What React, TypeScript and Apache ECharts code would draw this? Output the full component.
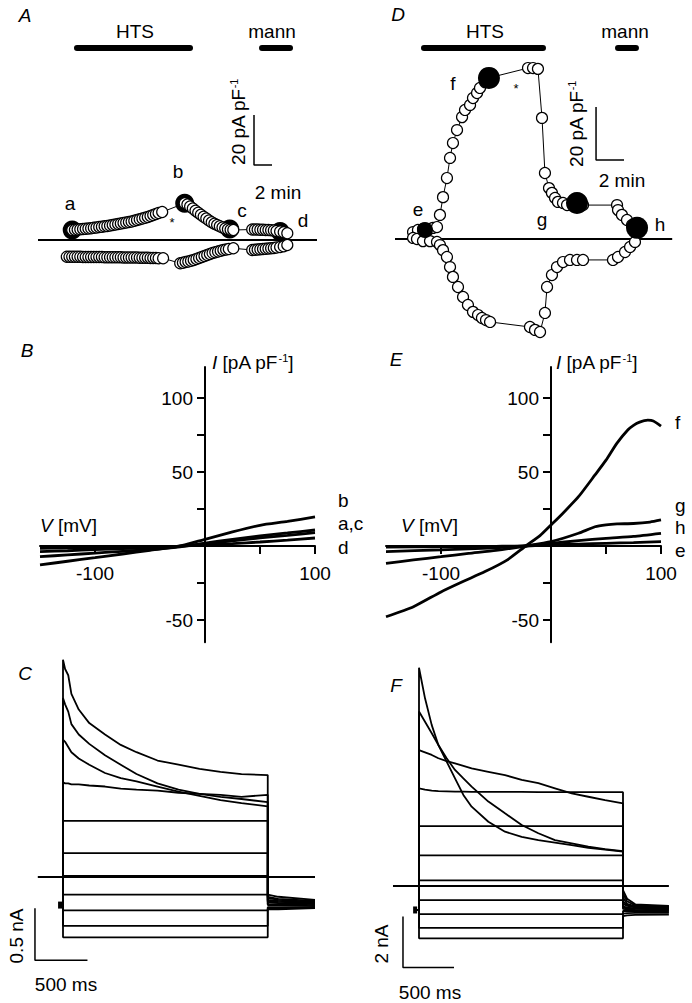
import { useEffect, useRef } from "react";
import * as echarts from "echarts";

const FONT = '"Liberation Sans", Arial, Helvetica, sans-serif';

// ---------- Panel A: time course, [time (min), current (pA/pF)] ----------
const aUpper1 = [[3.8,4.0],[4.1,4.1],[4.4,4.2],[4.7,4.3],[5.0,4.4],[5.3,4.5],[5.6,4.6],[5.9,4.7],[6.2,4.9],[6.5,5.0],[6.8,5.2],[7.1,5.3],[7.4,5.5],[7.7,5.6],[8.0,5.8],[8.3,6.0],[8.6,6.2],[8.9,6.4],[9.2,6.6],[9.5,6.8],[9.8,7.0],[10.1,7.2],[10.4,7.4],[10.7,7.7],[11.0,8.0],[11.3,8.3],[11.6,8.6],[11.9,8.9],[12.2,9.2],[12.5,9.6],[12.8,10.0],[13.1,10.4],[13.4,10.8],[13.8,11.2]];
const aUpper2 = [[16.3,14.7],[16.6,14.2],[16.9,13.4],[17.2,12.6],[17.5,11.7],[17.8,10.9],[18.1,10.1],[18.4,9.3],[18.7,8.6],[19.0,7.8],[19.3,7.1],[19.6,6.5],[19.9,6.0],[20.2,5.5],[20.5,5.0],[20.8,4.6],[21.1,4.3],[21.4,4.1],[21.7,4.0]];
const aUpper3 = [[23.8,4.2],[24.1,4.2],[24.4,4.2],[24.7,4.1],[25.0,4.1],[25.3,4.0],[25.6,4.0],[25.9,3.9],[26.2,3.8],[26.5,3.6],[26.9,3.4],[27.3,3.1],[27.7,2.7]];
const aLower1 = [[3.2,-6.7],[3.5,-6.7],[3.8,-6.7],[4.1,-6.7],[4.4,-6.7],[4.7,-6.7],[5.0,-6.8],[5.3,-6.8],[5.6,-6.8],[5.9,-6.8],[6.2,-6.8],[6.5,-6.8],[6.8,-6.8],[7.1,-6.8],[7.4,-6.9],[7.7,-6.9],[8.0,-6.9],[8.3,-6.9],[8.6,-6.9],[8.9,-6.9],[9.2,-6.9],[9.5,-7.0],[9.8,-7.0],[10.1,-7.0],[10.4,-7.0],[10.7,-7.0],[11.0,-7.0],[11.3,-7.1],[11.6,-7.1],[11.9,-7.1],[12.2,-7.1],[12.5,-7.2],[12.8,-7.2],[13.1,-7.2],[13.4,-7.3],[13.9,-7.3]];
const aLower2 = [[15.8,-9.3],[16.1,-9.1],[16.4,-8.8],[16.7,-8.6],[17.0,-8.3],[17.3,-8.0],[17.6,-7.6],[17.9,-7.2],[18.2,-6.8],[18.5,-6.4],[18.8,-6.0],[19.1,-5.6],[19.4,-5.2],[19.7,-4.9],[20.0,-4.6],[20.3,-4.3],[20.6,-4.0],[20.9,-3.8],[21.2,-3.6],[21.7,-3.3]];
const aLower3 = [[23.8,-4.0],[24.1,-3.9],[24.4,-3.8],[24.7,-3.7],[25.0,-3.6],[25.3,-3.5],[25.6,-3.4],[25.9,-3.3],[26.2,-3.2],[26.5,-3.0],[26.9,-2.8],[27.3,-2.5],[27.7,-2.0]];
const aMarked = [[3.8,4.0],[16.3,14.7],[21.3,4.4],[26.9,3.4]]; // a, b, c, d
const aHTS = [[4.33,76.8],[16.89,76.8]];
const aMann = [[24.89,76.8],[28.0,76.8]];
const aBaseline = [[0,0],[31,0]];
const aScale = [[24,50],[24,30],[26,30]]; // 20 pA/pF, 2 min

// ---------- Panel D: time course ----------
const dUpper = [[1.29,2.6],[1.64,3.4],[2.0,3.8],[2.36,3.4],[2.71,4.2],[3.0,4.5],[3.21,9.1],[3.43,15.8],[3.71,23.0],[3.93,30.6],[4.14,36.2],[4.43,41.1],[4.79,46.0],[5.0,48.7],[5.36,50.6],[5.57,53.2],[5.86,55.1],[6.07,57.0],[6.43,59.2],[6.71,60.8],[9.5,64.5],[9.86,64.5],[10.21,64.2],[10.5,45.7],[10.71,24.9],[11.0,19.2],[11.21,17.4],[11.43,15.5],[11.64,14.0],[12.0,13.6],[12.29,12.8],[12.71,13.6],[13.0,13.6],[13.43,12.8],[15.86,12.8],[15.93,10.9],[16.21,9.1],[16.57,7.2],[16.93,5.3],[17.29,4.2]];
const dLower = [[1.29,0.4],[1.57,0],[2.0,-0.8],[2.5,-0.8],[3.0,-1.1],[3.21,-2.3],[3.43,-4.2],[3.71,-6.8],[3.93,-10.6],[4.14,-14.3],[4.5,-18.1],[4.86,-21.9],[5.21,-24.9],[5.57,-27.5],[5.93,-28.7],[6.21,-29.8],[6.5,-30.6],[6.79,-31.3],[9.64,-33.2],[10.0,-34.3],[10.36,-35.1],[10.71,-27.9],[10.86,-18.1],[11.21,-13.6],[11.57,-10.6],[12.0,-8.7],[12.5,-7.9],[13.0,-7.9],[13.43,-7.9],[15.57,-7.9],[15.93,-6.8],[16.43,-4.9],[16.79,-3.0],[17.14,-1.1]];
const dMarked = [[2.14,3.4],[6.71,60.8],[13.0,13.6],[17.29,4.2]]; // e, f, g, h
const dHTS = [[2.07,72.1],[10.57,72.1]];
const dMann = [[15.93,72.1],[17.21,72.1]];
const dBaseline = [[0,0],[19.8,0]];
const dScale = [[14.36,49.8],[14.36,29.8],[16.36,29.8]];

// ---------- Panels B, E: I-V relations (mV, pA/pF) ----------
const vB = [-150,-125,-100,-75,-50,-25,0,25,50,75,100];
const ivB_b = [-12.8,-10.3,-7.9,-5.4,-2.9,-0.5,4.5,9.5,14.0,16.6,19.6];
const ivB_a = [-7.2,-6.0,-4.8,-3.6,-2.4,-0.8,2.0,4.5,6.8,8.8,10.8];
const ivB_c = [-3.8,-3.2,-2.5,-1.8,-1.2,-0.3,1.5,3.5,5.5,7.2,9.0];
const ivB_d = [-1.6,-1.3,-1.0,-0.8,-0.5,-0.1,0.6,1.6,2.7,4.0,5.4];

const vE_f = [-150,-125,-100,-80,-60,-40,-23,-10,0,10,25,40,50,60,70,75,80,88,93,100];
const ivE_f = [-47.8,-41,-31,-24,-17.3,-9.5,0,7,14.2,21.5,33.3,48,58,69.5,78.5,81.5,83.5,85,84.5,81];
const vE_g = [-150,-125,-100,-75,-50,-23,0,25,40,50,60,75,90,100];
const ivE_g = [-11.7,-9.4,-7.2,-5.0,-3.0,0,2.9,8.6,13,14.3,14.9,15.2,16.2,17.6];
const vE_he = [-150,-100,-50,-23,0,25,50,75,100];
const ivE_h = [-3.8,-2.6,-1.2,0,1.8,3.6,5.2,6.5,8.6];
const ivE_e = [-0.8,-0.5,-0.2,0,0.8,1.3,1.8,2.3,2.9];

const xTicks = [-100,50,100];
const xTickLabels = [-100,100];
const yTicks = [-50,-25,25,50,75,100];
const yTickLabels = [-50,50,100];

// ---------- Panel C: current traces (ms, nA) ----------
const tC = [0,20,50,80,150,250,400,550,700,900,1100,1300,1500,1700,1950];
const cT1 = [2.09,2.0,1.94,1.76,1.61,1.48,1.37,1.27,1.20,1.12,1.08,1.04,1.01,0.99,0.98];
const cT2 = [1.72,1.66,1.59,1.47,1.37,1.28,1.17,1.08,0.99,0.90,0.84,0.80,0.77,0.75,0.72];
const cT3 = [1.32,1.30,1.25,1.20,1.14,1.08,1.0,0.95,0.92,0.87,0.82,0.78,0.74,0.71,0.68];
const cT4 = [0.91,0.90,0.90,0.89,0.89,0.88,0.87,0.85,0.84,0.83,0.81,0.80,0.79,0.77,0.79];
const cFlat = [0.54,0.23,0.01,-0.17,-0.32,-0.47,-0.58];
const cHold = -0.27;
const tCtail = [1950,2050,2400];
const cTails = [[-0.17,-0.19,-0.22],[-0.19,-0.21,-0.23],[-0.2,-0.22,-0.24],[-0.22,-0.23,-0.25],[-0.23,-0.24,-0.25],[-0.24,-0.25,-0.26],[-0.26,-0.26,-0.27],[-0.27,-0.27,-0.28],[-0.29,-0.29,-0.29],[-0.3,-0.3,-0.3],[-0.31,-0.31,-0.3]];
const cBaseline = [[-240,0],[2400,0]];
const cScale = [[-267,-0.3],[-267,-0.8],[233,-0.8]]; // 0.5 nA, 500 ms

// ---------- Panel F: current traces ----------
const tF = [0,59,125,190,271,353,435,516,680,843,1007,1170,1333,1497,1660,1824,2000];
const fTA = [8.56,7.36,6.31,5.53,4.88,4.22,3.57,3.11,2.52,2.13,1.93,1.80,1.70,1.60,1.50,1.43,1.35];
const fTB = [6.84,6.44,5.99,5.53,5.01,4.55,4.22,3.90,3.31,2.85,2.39,2.07,1.80,1.67,1.54,1.45,1.37];
const fTC = [5.33,5.24,5.14,5.01,4.90,4.81,4.71,4.61,4.48,4.35,4.16,4.03,3.83,3.63,3.50,3.37,3.24];
const fTD = [3.83,3.78,3.74,3.72,3.71,3.70,3.70,3.69,3.69,3.69,3.69,3.68,3.68,3.68,3.68,3.68,3.68];
const fFlat = [2.35,1.20,0.22,-0.55,-1.10,-1.64,-2.05];
const fHold = -0.94;
const tFtail = [2000,2040,2120,2450];
const fTails = [[-0.16,-0.5,-0.72,-0.78],[-0.3,-0.6,-0.76,-0.8],[-0.45,-0.7,-0.8,-0.83],[-0.6,-0.75,-0.82,-0.85],[-0.7,-0.78,-0.84,-0.87],[-0.8,-0.85,-0.88,-0.9],[-0.85,-0.88,-0.9,-0.93],[-0.9,-0.92,-0.94,-0.96],[-0.98,-0.98,-0.98,-1.0],[-1.08,-1.06,-1.05,-1.05],[-1.18,-1.15,-1.13,-1.12]];
const fBaseline = [[-255,0],[2450,0]];
const fScale = [[-157,-1.2],[-157,-3.2],[343,-3.2]]; // 2 nA, 500 ms

const zip = (xs: number[], ys: number[]) => xs.map((x, i) => [x, ys[i]]);

function plainLine(data: number[][], gi: number, width: number, extra: any = {}) {
  return {
    type: "line", xAxisIndex: gi, yAxisIndex: gi, data, symbol: "none", silent: true,
    lineStyle: { color: "#000", width, cap: "butt" }, z: 2, ...extra,
  };
}

function openCircles(data: number[][], gi: number, size: number, z: number) {
  return {
    type: "line", xAxisIndex: gi, yAxisIndex: gi, data, symbol: "circle", symbolSize: size,
    showSymbol: true, showAllSymbol: true, silent: true,
    lineStyle: { color: "#000", width: 1 },
    itemStyle: { color: "#fff", borderColor: "#000", borderWidth: 1.2, opacity: 1 }, z,
  };
}

function filled(data: number[][], gi: number, size: any, z: number) {
  return {
    type: "scatter", xAxisIndex: gi, yAxisIndex: gi, data, symbol: "circle", symbolSize: size,
    silent: true, itemStyle: { color: "#000", opacity: 1 }, z,
  };
}

function trace(t: number[], v: number[], tailT: number[], tail: number[], hold: number, gi: number) {
  const data = [[-30, hold], [0, hold], ...zip(t, v), ...zip(tailT, tail)];
  return plainLine(data, gi, 1.8);
}

const RICH = {
  i: { fontStyle: "italic", fontSize: 19, fontFamily: FONT, color: "#000" },
  s: { fontSize: 11, fontFamily: FONT, color: "#000", verticalAlign: "top" },
};

function label(x: number, y: number, text: string, o: any = {}) {
  return {
    type: "text", x, y, rotation: o.rotation || 0, silent: true,
    style: {
      text, fill: "#000", fontFamily: FONT, fontSize: o.size || 19,
      fontStyle: o.italic ? "italic" : "normal",
      align: o.align || "center", verticalAlign: "middle",
      rich: RICH,
    },
  };
}

function ivXAxis(gi: number) {
  return {
    gridIndex: gi, type: "value", min: -150, max: 100,
    axisLine: { show: true, onZero: true, lineStyle: { color: "#000", width: 2 } },
    axisTick: { show: true, customValues: xTicks, length: 8, lineStyle: { color: "#000", width: 2 } },
    axisLabel: { show: false },
    splitLine: { show: false },
  };
}
function ivYAxis(gi: number) {
  return {
    gridIndex: gi, type: "value", min: -65, max: 121,
    axisLine: { show: true, onZero: true, lineStyle: { color: "#000", width: 2 } },
    axisTick: { show: true, customValues: yTicks, length: 8, lineStyle: { color: "#000", width: 2 } },
    axisLabel: { show: false },
    splitLine: { show: false },
  };
}
const hiddenAxis = (gi: number, min: number, max: number) => ({ gridIndex: gi, type: "value", min, max, show: false });

export default function App() {
  const ref = useRef<HTMLDivElement>(null);
  useEffect(() => {
    if (!ref.current) return;
    const chart = echarts.init(ref.current, null, { renderer: "svg" });
    const series: any[] = [];
    const bar = { lineStyle: { color: "#000", width: 6, cap: "round" } };
    // A
    series.push(plainLine(aBaseline, 0, 2));
    series.push(plainLine(aHTS, 0, 6, bar));
    series.push(plainLine(aMann, 0, 6, bar));
    series.push(plainLine(aScale, 0, 1.5));
    series.push(filled(aMarked, 0, 19, 3));
    series.push(openCircles([...aUpper1, ...aUpper2, ...aUpper3], 0, 11, 4));
    series.push(openCircles([...aLower1, ...aLower2, ...aLower3], 0, 11, 4));
    // D
    series.push(plainLine(dBaseline, 1, 2));
    series.push(plainLine(dHTS, 1, 6, bar));
    series.push(plainLine(dMann, 1, 6, bar));
    series.push(plainLine(dScale, 1, 1.5));
    series.push(openCircles(dUpper, 1, 11, 4));
    series.push(openCircles(dLower, 1, 11, 4));
    series.push(filled(dMarked, 1, (_v: any, p: any) => (p.dataIndex === 0 ? 16 : 22), 5));
    // B
    [ivB_b, ivB_a, ivB_c, ivB_d].forEach((iv) =>
      series.push(plainLine(zip(vB, iv), 2, 2.8, { smooth: 0.2, z: 3 })));
    // E
    series.push(plainLine(zip(vE_f, ivE_f), 3, 2.8, { smooth: 0.2, z: 3 }));
    series.push(plainLine(zip(vE_g, ivE_g), 3, 2.8, { smooth: 0.2, z: 3 }));
    series.push(plainLine(zip(vE_he, ivE_h), 3, 2.8, { smooth: 0.2, z: 3 }));
    series.push(plainLine(zip(vE_he, ivE_e), 3, 2.8, { smooth: 0.2, z: 3 }));
    // C
    series.push(plainLine(cBaseline, 4, 1.8));
    series.push(plainLine(cScale, 4, 1.5));
    [cT1, cT2, cT3, cT4].forEach((v, i) => series.push(trace(tC, v, tCtail, cTails[i], cHold, 4)));
    cFlat.forEach((lv, i) => series.push(trace([0, 1950], [lv, lv], tCtail, cTails[i + 4], cHold, 4)));
    series.push({ ...filled([[-28, cHold]], 4, [4, 7], 3), symbol: "rect" });
    // F
    series.push(plainLine(fBaseline, 5, 1.8));
    series.push(plainLine(fScale, 5, 1.5));
    [fTA, fTB, fTC, fTD].forEach((v, i) => series.push(trace(tF, v, tFtail, fTails[i], fHold, 5)));
    fFlat.forEach((lv, i) => series.push(trace([0, 2000], [lv, lv], tFtail, fTails[i + 4], fHold, 5)));
    series.push({ ...filled([[-38, fHold]], 5, [4, 7], 3), symbol: "rect" });

    const R = Math.PI / 2;
    const graphic: any[] = [
      // A
      label(25, 15, "A", { italic: true }),
      label(135, 31, "HTS"), label(272, 31, "mann"),
      label(238, 122, "20 pA pF{s|-1}", { rotation: R }),
      label(278, 192, "2 min"),
      label(70, 203, "a"), label(178, 171, "b"), label(242, 210, "c"), label(303, 220, "d"),
      label(172, 222, "*", { size: 13 }),
      // D
      label(398, 14, "D", { italic: true }),
      label(485, 31, "HTS"), label(625, 31, "mann"),
      label(576, 124, "20 pA pF{s|-1}", { rotation: R }),
      label(622, 180, "2 min"),
      label(453, 83, "f"), label(418, 209, "e"), label(542, 219, "g"), label(660, 224, "h"),
      label(516, 88, "*", { size: 13 }),
      // B
      label(27, 350, "B", { italic: true }),
      label(212, 362, "{i|I} [pA pF{s|-1}]", { align: "left" }),
      label(40, 525, "{i|V} [mV]", { align: "left" }),
      label(338, 500, "b", { align: "left" }), label(338, 523, "a,c", { align: "left" }), label(338, 547, "d", { align: "left" }),
      // E
      label(396, 359, "E", { italic: true }),
      label(556, 362, "{i|I} [pA pF{s|-1}]", { align: "left" }),
      label(401, 525, "{i|V} [mV]", { align: "left" }),
      label(675, 422, "f", { align: "left" }), label(675, 505, "g", { align: "left" }),
      label(675, 527, "h", { align: "left" }), label(675, 550, "e", { align: "left" }),
      // C
      label(25, 673, "C", { italic: true }),
      label(16, 936, "0.5 nA", { rotation: R }),
      label(66, 984, "500 ms"),
      // F
      label(396, 685, "F", { italic: true }),
      label(381, 944, "2 nA", { rotation: R }),
      label(430, 992, "500 ms"),
    ];

    chart.setOption({
      animation: false,
      backgroundColor: "#fff",
      textStyle: { fontFamily: FONT },
      grid: [
        { left: 38, top: 40, width: 279, height: 240 },
        { left: 395, top: 40.25, width: 280, height: 304.75 },
        { left: 40, top: 366.92, width: 275, height: 275.28 },
        { left: 386, top: 366.92, width: 275, height: 275.28 },
        { left: 29.4, top: 648.2, width: 285.6, height: 317.2 },
        { left: 388.4, top: 656.5, width: 285.6, height: 313.65 },
      ],
      xAxis: [
        hiddenAxis(0, 0, 31), hiddenAxis(1, 0, 20), ivXAxis(2), ivXAxis(3),
        hiddenAxis(4, -320, 2400), hiddenAxis(5, -300, 2500),
      ],
      yAxis: [
        hiddenAxis(0, -16, 80), hiddenAxis(1, -40, 75), ivYAxis(2), ivYAxis(3),
        hiddenAxis(4, -0.85, 2.2), hiddenAxis(5, -3.3, 9),
      ],
      series,
      graphic,
    });

    // tick labels of the I-V axes, placed through the axes' own scales
    const tickLabels: any[] = [];
    [2, 3].forEach((gi) => {
      xTickLabels.forEach((v) => {
        const p = chart.convertToPixel({ gridIndex: gi }, [v, 0]) as number[];
        tickLabels.push(label(p[0], p[1] + 27, String(v)));
      });
      yTickLabels.forEach((v) => {
        const p = chart.convertToPixel({ gridIndex: gi }, [0, v]) as number[];
        tickLabels.push(label(p[0] - 12, p[1], String(v), { align: "right" }));
      });
    });
    chart.setOption({ graphic: [...graphic, ...tickLabels] });
    return () => chart.dispose();
  }, []);
  return <div ref={ref} style={{ position: "absolute", left: 0, top: 0, width: 692, height: 1003 }} />;
}
